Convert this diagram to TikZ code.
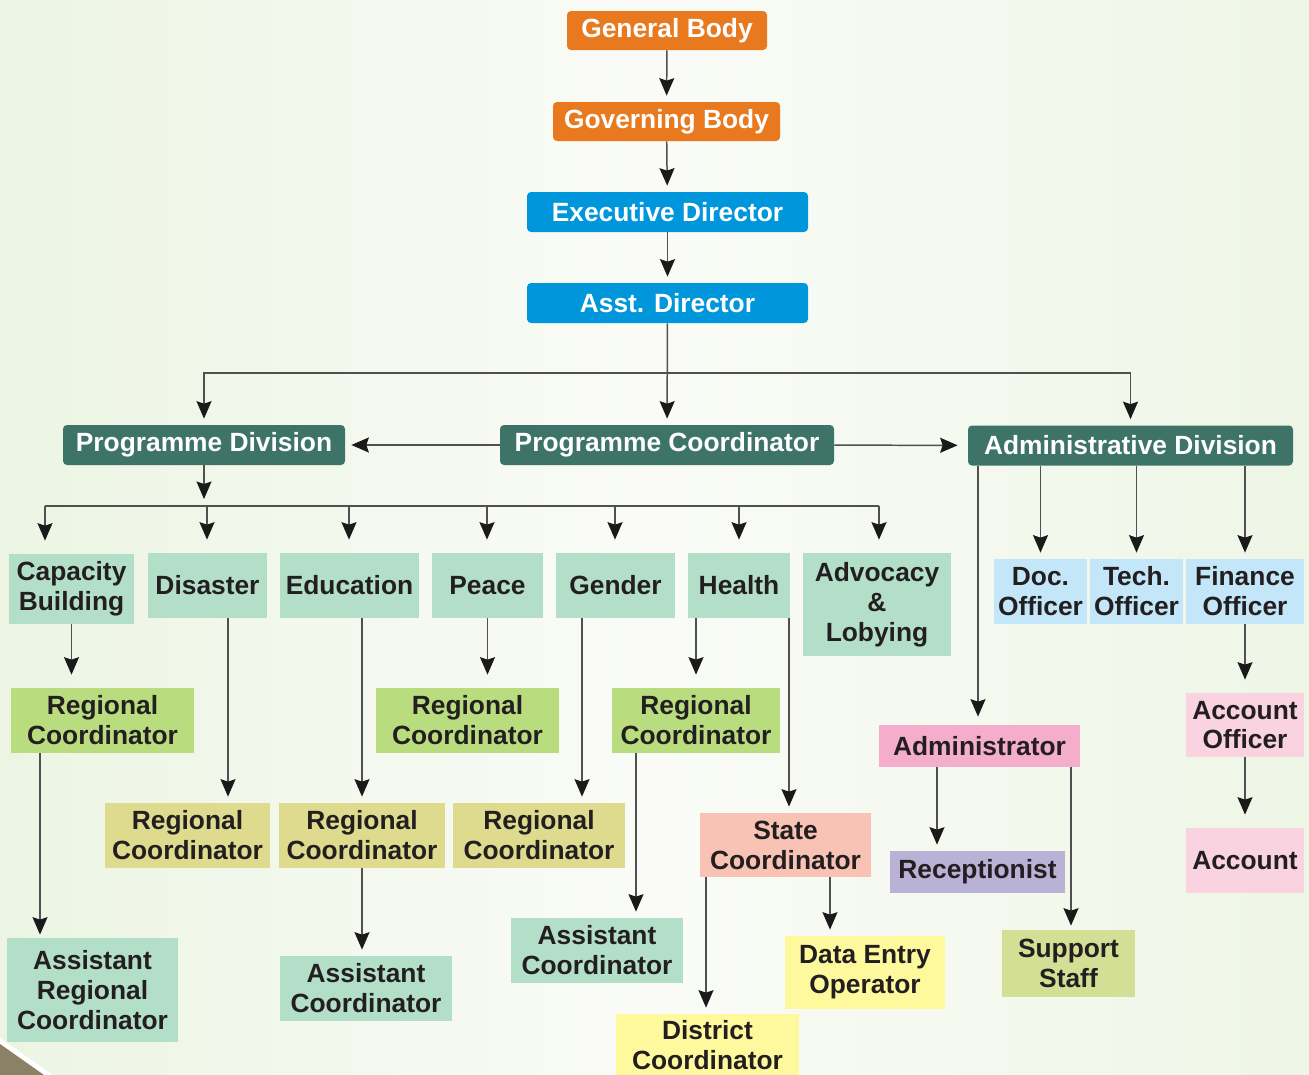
\documentclass[tikz,border=0pt]{standalone}
\usepackage{fontspec}
\setmainfont{Liberation Sans}
\usetikzlibrary{arrows.meta}
\definecolor{orgbox}{HTML}{E8791E}
\definecolor{bluebox}{HTML}{0096DC}
\definecolor{tealbox}{HTML}{3E7468}
\definecolor{mintbox}{HTML}{B3DFC9}
\definecolor{rcgreen}{HTML}{B9DC7E}
\definecolor{rckhaki}{HTML}{DEDA8E}
\definecolor{salmonbox}{HTML}{F8C3B4}
\definecolor{yelbox}{HTML}{FFF99D}
\definecolor{ltbluebox}{HTML}{C3E6F9}
\definecolor{acctpink}{HTML}{F9D3E0}
\definecolor{admpink}{HTML}{F4AECB}
\definecolor{lavbox}{HTML}{B9B2D6}
\definecolor{suppbox}{HTML}{D2DF94}
\definecolor{txtdark}{HTML}{231F20}
\definecolor{linegrey}{HTML}{505050}
\definecolor{tipblack}{HTML}{1A1A1A}
\definecolor{bgside}{HTML}{ECF5E3}
\definecolor{bgmid}{HTML}{FAFBF7}
\definecolor{bgside2}{HTML}{EEF6E6}
\definecolor{cornerbrown}{HTML}{8B8167}
\begin{document}
\begin{tikzpicture}[x=0.02cm,y=-0.02cm,%organisation chart
  font=\bfseries\fontsize{15}{17}\selectfont,
  box/.style={inner sep=0pt,align=center,text=txtdark},
  sz/.style 2 args={minimum width=#1*0.02cm,minimum height=#2*0.02cm},
  top/.style={box,rounded corners=0.08cm,text=white},
  arr/.style={draw=linegrey,line width=0.85pt,
    -{Stealth[length=0.35cm,width=0.3cm,inset=0.05cm,color=tipblack]},
    shorten >=0.12cm},
  far/.style={shorten >=0.26cm}]
\shade[left color=bgside,right color=bgside2,middle color=bgmid] (0,0) rectangle (1309,1075);
\useasboundingbox (0,0) rectangle (1309,1075);
\fill[white] (0,1038) -- (53,1075) -- (44,1075) -- (0,1044) -- cycle;
\fill[cornerbrown] (0,1044) -- (44,1075) -- (0,1075) -- cycle;
% top of the chart
\node[top,sz={200}{39},fill=orgbox] (genbody) at (667,30.5) {General Body};
\node[top,sz={227}{39},fill=orgbox] (govbody) at (666.5,121.5) {Governing Body};
\node[top,sz={281}{40},fill=bluebox] (exdir) at (667.5,212) {Executive Director};
\node[top,sz={281}{40},fill=bluebox] (asstdir) at (667.5,303) {Asst. Director};
\node[top,sz={282}{40},fill=tealbox] (progdiv) at (204,445) {Programme Division};
\node[top,sz={334}{40},fill=tealbox] (progcoord) at (667,445) {Programme Coordinator};
\node[top,sz={325}{40},fill=tealbox] (admdiv) at (1130.5,445.5) {Administrative Division};
% programme division
\node[box,sz={125}{70},fill=mintbox] (capbld) at (71.5,589) {Capacity\\Building};
\node[box,sz={119}{65},fill=mintbox] (disaster) at (207.5,585.5) {Disaster};
\node[box,sz={139}{65},fill=mintbox] (educ) at (349.5,585.5) {Education};
\node[box,sz={111}{65},fill=mintbox] (peace) at (487.5,585.5) {Peace};
\node[box,sz={119}{65},fill=mintbox] (gender) at (615.5,585.5) {Gender};
\node[box,sz={102}{65},fill=mintbox] (health) at (739,585.5) {Health};
\node[box,sz={148}{103},fill=mintbox] (advoc) at (877,604.5) {Advocacy\\\&\\Lobying};
\node[box,sz={183}{65},fill=rcgreen] (regA) at (102.5,720.5) {Regional\\Coordinator};
\node[box,sz={165}{65},fill=rckhaki] (regB) at (187.5,835.5) {Regional\\Coordinator};
\node[box,sz={166}{65},fill=rckhaki] (regC) at (362,835.5) {Regional\\Coordinator};
\node[box,sz={183}{65},fill=rcgreen] (regD) at (467.5,720.5) {Regional\\Coordinator};
\node[box,sz={172}{65},fill=rckhaki] (regE) at (539,835.5) {Regional\\Coordinator};
\node[box,sz={168}{65},fill=rcgreen] (regF) at (696,720.5) {Regional\\Coordinator};
\node[box,sz={171}{104},fill=mintbox] (asstreg) at (92.5,990) {Assistant\\Regional\\Coordinator};
\node[box,sz={172}{65},fill=mintbox] (asstA) at (366,988.5) {Assistant\\Coordinator};
\node[box,sz={172}{65},fill=mintbox] (asstB) at (597,950.5) {Assistant\\Coordinator};
\node[box,sz={171}{64},fill=salmonbox] (statec) at (785.5,845) {State\\Coordinator};
\node[box,sz={183}{62},fill=yelbox] (distc) at (707.5,1045) {District\\Coordinator};
\node[box,sz={160}{73},fill=yelbox] (dataent) at (865,972.5) {Data Entry\\Operator};
% administrative division
\node[box,sz={93}{65},fill=ltbluebox] (docoff) at (1040.5,591.5) {Doc.\\Officer};
\node[box,sz={93}{65},fill=ltbluebox] (techoff) at (1136.5,591.5) {Tech.\\Officer};
\node[box,sz={118}{65},fill=ltbluebox] (finoff) at (1245,591.5) {Finance\\Officer};
\node[box,sz={118}{64},fill=acctpink] (acctoff) at (1245,725) {Account\\Officer};
\node[box,sz={118}{65},fill=acctpink] (account) at (1245,860.5) {Account};
\node[box,sz={201}{42},fill=admpink] (admin) at (979.5,746) {Administrator};
\node[box,sz={175}{42},fill=lavbox] (recep) at (977.5,872) {Receptionist};
\node[box,sz={133}{67},fill=suppbox] (support) at (1068.5,963.5) {Support\\Staff};
% connectors
\draw[arr] (genbody) -- (govbody);
\draw[arr] (govbody) -- (exdir);
\draw[arr] (exdir) -- (asstdir);
\coordinate (topbus) at (667.5,373);
\draw[arr] (asstdir) -- (progcoord);
\draw[arr] (topbus) -| (progdiv);
\draw[arr] (topbus) -| (admdiv);
\draw[arr] (progcoord) -- (progdiv);
\draw[arr,shorten >=0.2cm] (progcoord) -- (admdiv);
\coordinate (pdtip) at (204,499);
\draw[arr,shorten >=0pt] (progdiv) -- (pdtip);
\coordinate (busL) at (45,506);
\coordinate (busR) at (879,506);
\draw[linegrey,line width=0.85pt] (busL) -- (busR);
\foreach \nm/\xx in {capbld/45,disaster/207,educ/349,peace/487,gender/615,health/739,advoc/879}
  \draw[arr,far] (busL -| \xx,0) -- (\nm.north -| \xx,0);
\draw[arr,far] (capbld) -- (regA.north -| capbld);
\draw[arr,shorten >=0.06cm] (regA.south -| 40,0) -- (asstreg.north -| 40,0);
\draw[arr] (disaster.south -| 228,0) -- (regB.north -| 228,0);
\draw[arr] (educ.south -| regC) -- (regC);
\draw[arr] (regC) -- (asstA.north -| regC);
\draw[arr,far] (peace) -- (regD.north -| peace);
\draw[arr] (gender.south -| 582,0) -- (regE.north -| 582,0);
\draw[arr,far] (health.south -| regF) -- (regF);
\draw[arr] (health.south -| 789,0) -- (statec.north -| 789,0);
\draw[arr] (regF.south -| 636,0) -- (asstB.north -| 636,0);
\draw[arr] (statec.south -| 706,0) -- (distc.north -| 706,0);
\draw[arr] (statec.south -| 830,0) -- (dataent.north -| 830,0);
\foreach \nm in {docoff,techoff,finoff}
  \draw[arr] (admdiv.south -| \nm) -- (\nm);
\draw[arr,shorten >=0.16cm] (admdiv.south -| 978,0) -- (admin.north -| 978,0);
\draw[arr,far] (finoff) -- (acctoff);
\draw[arr,far] (acctoff) -- (account);
\draw[arr] (admin.south -| 937,0) -- (recep.north -| 937,0);
\draw[arr,shorten >=0.08cm] (admin.south -| 1071,0) -- (support.north -| 1071,0);
\end{tikzpicture}
\end{document}
